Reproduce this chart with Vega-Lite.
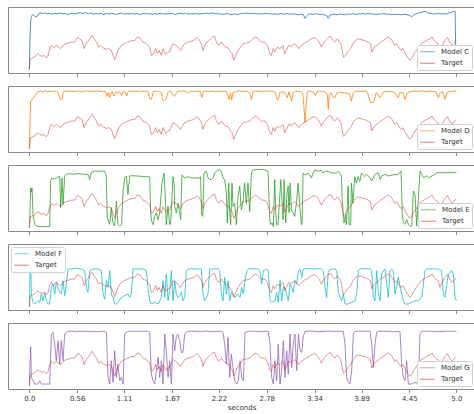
{
  "$schema": "https://vega.github.io/schema/vega-lite/v6.json",
  "padding": {"left": 7, "top": 6, "right": 0, "bottom": 0},
  "bounds": "flush",
  "spacing": 13,
  "config": {
    "font": "DejaVu Sans",
    "view": {"stroke": "#8a8a8a", "strokeWidth": 1},
    "axis": {"domain": false, "grid": false, "tickColor": "#8a8a8a", "tickSize": 3.5, "tickWidth": 1, "labelColor": "#333333", "labelFontSize": 7, "labelPadding": 2, "titleFontSize": 7, "titleFontWeight": "normal", "titleColor": "#333333", "titlePadding": 2},
    "legend": {"fillColor": "#ffffff", "strokeColor": "#d0d0d0", "cornerRadius": 2, "padding": 2, "offset": 3, "symbolType": "stroke", "symbolSize": 220, "symbolStrokeWidth": 1.2, "symbolOpacity": 0.5, "clipHeight": 9.5, "labelFontSize": 7, "labelColor": "#333333", "rowPadding": 1.5, "labelOffset": 5, "direction": "vertical"}
  },
  "resolve": {"scale": {"color": "independent"}, "legend": {"color": "independent"}},
  "datasets": {
    "target": [
      {"t":0,"v":0},{"t":0.012,"v":0.185},{"t":0.043,"v":0.2},{"t":0.082,"v":0.24},{"t":0.101,"v":0.27},{"t":0.121,"v":0.24},{"t":0.148,"v":0.225},{"t":0.172,"v":0.24},{"t":0.199,"v":0.2},{"t":0.219,"v":0.24},{"t":0.238,"v":0.355},{"t":0.258,"v":0.41},{"t":0.285,"v":0.37},{"t":0.316,"v":0.41},{"t":0.343,"v":0.38},{"t":0.367,"v":0.355},{"t":0.394,"v":0.41},{"t":0.433,"v":0.44},{"t":0.462,"v":0.45},{"t":0.492,"v":0.465},{"t":0.531,"v":0.465},{"t":0.562,"v":0.54},{"t":0.589,"v":0.52},{"t":0.617,"v":0.49},{"t":0.64,"v":0.355},{"t":0.667,"v":0.44},{"t":0.706,"v":0.52},{"t":0.734,"v":0.58},{"t":0.757,"v":0.52},{"t":0.785,"v":0.465},{"t":0.812,"v":0.38},{"t":0.835,"v":0.41},{"t":0.863,"v":0.37},{"t":0.902,"v":0.34},{"t":0.929,"v":0.355},{"t":0.96,"v":0.325},{"t":0.98,"v":0.24},{"t":0.999,"v":0.17},{"t":1.019,"v":0.24},{"t":1.038,"v":0.325},{"t":1.077,"v":0.41},{"t":1.116,"v":0.44},{"t":1.155,"v":0.465},{"t":1.194,"v":0.49},{"t":1.233,"v":0.49},{"t":1.265,"v":0.55},{"t":1.292,"v":0.54},{"t":1.331,"v":0.465},{"t":1.37,"v":0.44},{"t":1.409,"v":0.38},{"t":1.429,"v":0.24},{"t":1.456,"v":0.27},{"t":1.479,"v":0.355},{"t":1.499,"v":0.27},{"t":1.518,"v":0.325},{"t":1.546,"v":0.24},{"t":1.565,"v":0.355},{"t":1.597,"v":0.26},{"t":1.624,"v":0.3},{"t":1.643,"v":0.3},{"t":1.663,"v":0.38},{"t":1.682,"v":0.44},{"t":1.714,"v":0.41},{"t":1.741,"v":0.38},{"t":1.768,"v":0.325},{"t":1.792,"v":0.38},{"t":1.819,"v":0.44},{"t":1.858,"v":0.465},{"t":1.897,"v":0.48},{"t":1.936,"v":0.505},{"t":1.964,"v":0.54},{"t":1.987,"v":0.505},{"t":2.014,"v":0.44},{"t":2.034,"v":0.325},{"t":2.053,"v":0.41},{"t":2.081,"v":0.465},{"t":2.112,"v":0.505},{"t":2.143,"v":0.55},{"t":2.171,"v":0.56},{"t":2.19,"v":0.465},{"t":2.221,"v":0.41},{"t":2.249,"v":0.465},{"t":2.276,"v":0.41},{"t":2.299,"v":0.38},{"t":2.327,"v":0.37},{"t":2.354,"v":0.3},{"t":2.377,"v":0.26},{"t":2.393,"v":0.16},{"t":2.416,"v":0.24},{"t":2.444,"v":0.325},{"t":2.471,"v":0.38},{"t":2.502,"v":0.44},{"t":2.541,"v":0.45},{"t":2.58,"v":0.465},{"t":2.619,"v":0.52},{"t":2.646,"v":0.55},{"t":2.678,"v":0.52},{"t":2.717,"v":0.465},{"t":2.756,"v":0.465},{"t":2.787,"v":0.41},{"t":2.815,"v":0.27},{"t":2.834,"v":0.24},{"t":2.854,"v":0.355},{"t":2.873,"v":0.3},{"t":2.904,"v":0.38},{"t":2.932,"v":0.355},{"t":2.971,"v":0.41},{"t":2.99,"v":0.27},{"t":3.01,"v":0.325},{"t":3.037,"v":0.41},{"t":3.068,"v":0.39},{"t":3.1,"v":0.44},{"t":3.127,"v":0.41},{"t":3.154,"v":0.355},{"t":3.185,"v":0.41},{"t":3.225,"v":0.45},{"t":3.264,"v":0.48},{"t":3.303,"v":0.52},{"t":3.334,"v":0.54},{"t":3.361,"v":0.52},{"t":3.381,"v":0.49},{"t":3.4,"v":0.44},{"t":3.42,"v":0.38},{"t":3.439,"v":0.44},{"t":3.467,"v":0.49},{"t":3.498,"v":0.54},{"t":3.529,"v":0.56},{"t":3.556,"v":0.49},{"t":3.576,"v":0.465},{"t":3.607,"v":0.52},{"t":3.627,"v":0.48},{"t":3.646,"v":0.44},{"t":3.662,"v":0.325},{"t":3.677,"v":0.21},{"t":3.701,"v":0.24},{"t":3.732,"v":0.31},{"t":3.763,"v":0.355},{"t":3.79,"v":0.44},{"t":3.818,"v":0.49},{"t":3.849,"v":0.52},{"t":3.888,"v":0.505},{"t":3.927,"v":0.49},{"t":3.966,"v":0.465},{"t":3.993,"v":0.44},{"t":4.01,"v":0.3},{"t":4.04,"v":0.38},{"t":4.083,"v":0.425},{"t":4.114,"v":0.465},{"t":4.142,"v":0.49},{"t":4.169,"v":0.52},{"t":4.2,"v":0.55},{"t":4.232,"v":0.52},{"t":4.259,"v":0.465},{"t":4.278,"v":0.41},{"t":4.298,"v":0.44},{"t":4.325,"v":0.38},{"t":4.349,"v":0.325},{"t":4.376,"v":0.355},{"t":4.403,"v":0.27},{"t":4.434,"v":0.2},{"t":4.454,"v":0.16},{"t":4.474,"v":0.185},{"t":4.505,"v":0.27},{"t":4.532,"v":0.325},{"t":4.559,"v":0.38},{"t":4.591,"v":0.44},{"t":4.622,"v":0.465},{"t":4.649,"v":0.49},{"t":4.688,"v":0.52},{"t":4.716,"v":0.55},{"t":4.739,"v":0.49},{"t":4.766,"v":0.45},{"t":4.786,"v":0.44},{"t":4.806,"v":0.325},{"t":4.833,"v":0.41},{"t":4.864,"v":0.49},{"t":4.895,"v":0.54},{"t":4.923,"v":0.465},{"t":4.95,"v":0.41},{"t":4.981,"v":0.465},{"t":5.0,"v":0.49}
    ],
    "c": [
      {"t":0,"v":0},{"t":0.008,"v":0.55},{"t":0.016,"v":0.82},{"t":0.023,"v":0.9},{"t":0.043,"v":0.93},{"t":0.062,"v":0.9},{"t":0.082,"v":0.885},{"t":0.101,"v":0.92},{"t":0.121,"v":0.96},{"t":0.15,"v":0.945},{"t":0.18,"v":0.955},{"t":0.21,"v":0.94},{"t":0.24,"v":0.95},{"t":0.27,"v":0.935},{"t":0.3,"v":0.95},{"t":0.33,"v":0.94},{"t":0.36,"v":0.955},{"t":0.39,"v":0.94},{"t":0.42,"v":0.945},{"t":0.45,"v":0.93},{"t":0.48,"v":0.945},{"t":0.51,"v":0.95},{"t":0.54,"v":0.94},{"t":0.57,"v":0.955},{"t":0.6,"v":0.96},{"t":0.63,"v":0.945},{"t":0.66,"v":0.965},{"t":0.69,"v":0.94},{"t":0.72,"v":0.955},{"t":0.75,"v":0.935},{"t":0.78,"v":0.945},{"t":0.81,"v":0.94},{"t":0.84,"v":0.95},{"t":0.87,"v":0.93},{"t":0.9,"v":0.945},{"t":0.93,"v":0.935},{"t":0.96,"v":0.95},{"t":0.99,"v":0.94},{"t":1.02,"v":0.93},{"t":1.05,"v":0.945},{"t":1.08,"v":0.95},{"t":1.11,"v":0.935},{"t":1.14,"v":0.945},{"t":1.17,"v":0.94},{"t":1.2,"v":0.95},{"t":1.23,"v":0.935},{"t":1.26,"v":0.945},{"t":1.29,"v":0.93},{"t":1.32,"v":0.94},{"t":1.35,"v":0.95},{"t":1.38,"v":0.94},{"t":1.41,"v":0.945},{"t":1.44,"v":0.93},{"t":1.47,"v":0.945},{"t":1.5,"v":0.935},{"t":1.53,"v":0.95},{"t":1.56,"v":0.94},{"t":1.59,"v":0.945},{"t":1.62,"v":0.935},{"t":1.65,"v":0.95},{"t":1.68,"v":0.94},{"t":1.71,"v":0.93},{"t":1.74,"v":0.945},{"t":1.77,"v":0.95},{"t":1.8,"v":0.94},{"t":1.83,"v":0.955},{"t":1.86,"v":0.935},{"t":1.89,"v":0.945},{"t":1.92,"v":0.94},{"t":1.95,"v":0.95},{"t":1.98,"v":0.935},{"t":2.01,"v":0.945},{"t":2.04,"v":0.94},{"t":2.07,"v":0.955},{"t":2.1,"v":0.94},{"t":2.13,"v":0.96},{"t":2.16,"v":0.945},{"t":2.19,"v":0.95},{"t":2.22,"v":0.935},{"t":2.25,"v":0.94},{"t":2.28,"v":0.93},{"t":2.31,"v":0.945},{"t":2.34,"v":0.935},{"t":2.37,"v":0.925},{"t":2.4,"v":0.94},{"t":2.43,"v":0.93},{"t":2.46,"v":0.935},{"t":2.49,"v":0.95},{"t":2.52,"v":0.945},{"t":2.55,"v":0.955},{"t":2.58,"v":0.94},{"t":2.61,"v":0.95},{"t":2.64,"v":0.945},{"t":2.67,"v":0.94},{"t":2.7,"v":0.945},{"t":2.73,"v":0.935},{"t":2.76,"v":0.95},{"t":2.79,"v":0.94},{"t":2.82,"v":0.945},{"t":2.85,"v":0.935},{"t":2.88,"v":0.94},{"t":2.91,"v":0.93},{"t":2.94,"v":0.945},{"t":2.97,"v":0.935},{"t":3.0,"v":0.94},{"t":3.03,"v":0.945},{"t":3.06,"v":0.935},{"t":3.09,"v":0.94},{"t":3.12,"v":0.935},{"t":3.15,"v":0.925},{"t":3.18,"v":0.935},{"t":3.21,"v":0.92},{"t":3.228,"v":0.865},{"t":3.245,"v":0.9},{"t":3.27,"v":0.935},{"t":3.3,"v":0.94},{"t":3.33,"v":0.93},{"t":3.36,"v":0.945},{"t":3.39,"v":0.93},{"t":3.42,"v":0.935},{"t":3.45,"v":0.925},{"t":3.48,"v":0.915},{"t":3.5,"v":0.865},{"t":3.52,"v":0.92},{"t":3.55,"v":0.93},{"t":3.58,"v":0.935},{"t":3.61,"v":0.925},{"t":3.64,"v":0.94},{"t":3.67,"v":0.93},{"t":3.7,"v":0.925},{"t":3.73,"v":0.94},{"t":3.76,"v":0.93},{"t":3.79,"v":0.945},{"t":3.82,"v":0.93},{"t":3.85,"v":0.94},{"t":3.88,"v":0.935},{"t":3.91,"v":0.945},{"t":3.94,"v":0.935},{"t":3.97,"v":0.95},{"t":4.0,"v":0.935},{"t":4.03,"v":0.94},{"t":4.06,"v":0.93},{"t":4.09,"v":0.94},{"t":4.12,"v":0.935},{"t":4.15,"v":0.945},{"t":4.18,"v":0.93},{"t":4.21,"v":0.935},{"t":4.24,"v":0.925},{"t":4.27,"v":0.935},{"t":4.3,"v":0.93},{"t":4.33,"v":0.935},{"t":4.36,"v":0.925},{"t":4.39,"v":0.935},{"t":4.42,"v":0.925},{"t":4.45,"v":0.915},{"t":4.477,"v":0.89},{"t":4.5,"v":0.92},{"t":4.53,"v":0.94},{"t":4.56,"v":0.955},{"t":4.6,"v":0.97},{"t":4.633,"v":0.985},{"t":4.66,"v":0.96},{"t":4.69,"v":0.95},{"t":4.72,"v":0.945},{"t":4.75,"v":0.935},{"t":4.78,"v":0.95},{"t":4.81,"v":0.94},{"t":4.84,"v":0.945},{"t":4.87,"v":0.935},{"t":4.9,"v":0.95},{"t":4.93,"v":0.96},{"t":4.96,"v":0.975},{"t":4.985,"v":0.985},{"t":4.99,"v":0.5},{"t":4.995,"v":0}
    ],
    "d": [
      {"t":0,"v":0},{"t":0.008,"v":0.5},{"t":0.016,"v":0.8},{"t":0.031,"v":0.83},{"t":0.062,"v":0.887},{"t":0.101,"v":0.96},{"t":0.13,"v":0.97},{"t":0.16,"v":0.955},{"t":0.19,"v":0.975},{"t":0.22,"v":0.96},{"t":0.25,"v":0.97},{"t":0.28,"v":0.965},{"t":0.31,"v":0.975},{"t":0.33,"v":0.955},{"t":0.345,"v":0.9},{"t":0.36,"v":0.84},{"t":0.375,"v":0.815},{"t":0.385,"v":0.84},{"t":0.395,"v":0.95},{"t":0.41,"v":0.97},{"t":0.44,"v":0.965},{"t":0.47,"v":0.975},{"t":0.5,"v":0.96},{"t":0.53,"v":0.97},{"t":0.56,"v":0.965},{"t":0.59,"v":0.975},{"t":0.62,"v":0.95},{"t":0.65,"v":0.97},{"t":0.68,"v":0.975},{"t":0.71,"v":0.96},{"t":0.74,"v":0.97},{"t":0.77,"v":0.965},{"t":0.8,"v":0.975},{"t":0.83,"v":0.96},{"t":0.86,"v":0.97},{"t":0.89,"v":0.965},{"t":0.91,"v":0.88},{"t":0.925,"v":0.95},{"t":0.94,"v":0.86},{"t":0.955,"v":0.93},{"t":0.97,"v":0.96},{"t":0.99,"v":0.885},{"t":1.01,"v":0.95},{"t":1.04,"v":0.94},{"t":1.06,"v":0.96},{"t":1.08,"v":0.9},{"t":1.1,"v":0.97},{"t":1.12,"v":0.96},{"t":1.14,"v":0.885},{"t":1.155,"v":0.95},{"t":1.17,"v":0.975},{"t":1.2,"v":0.965},{"t":1.23,"v":0.97},{"t":1.26,"v":0.96},{"t":1.29,"v":0.975},{"t":1.32,"v":0.965},{"t":1.35,"v":0.97},{"t":1.39,"v":0.96},{"t":1.41,"v":0.84},{"t":1.43,"v":0.83},{"t":1.45,"v":0.96},{"t":1.48,"v":0.97},{"t":1.51,"v":0.965},{"t":1.545,"v":0.95},{"t":1.56,"v":0.82},{"t":1.58,"v":0.815},{"t":1.6,"v":0.83},{"t":1.62,"v":0.94},{"t":1.64,"v":0.97},{"t":1.66,"v":0.96},{"t":1.68,"v":0.91},{"t":1.7,"v":0.88},{"t":1.72,"v":0.93},{"t":1.74,"v":0.97},{"t":1.77,"v":0.965},{"t":1.8,"v":0.975},{"t":1.83,"v":0.96},{"t":1.86,"v":0.94},{"t":1.89,"v":0.97},{"t":1.92,"v":0.965},{"t":1.95,"v":0.975},{"t":1.98,"v":0.96},{"t":2.0,"v":0.97},{"t":2.02,"v":0.86},{"t":2.04,"v":0.97},{"t":2.07,"v":0.965},{"t":2.1,"v":0.975},{"t":2.13,"v":0.96},{"t":2.16,"v":0.97},{"t":2.19,"v":0.965},{"t":2.22,"v":0.975},{"t":2.25,"v":0.96},{"t":2.28,"v":0.97},{"t":2.31,"v":0.955},{"t":2.34,"v":0.83},{"t":2.355,"v":0.94},{"t":2.37,"v":0.82},{"t":2.385,"v":0.95},{"t":2.41,"v":0.96},{"t":2.44,"v":0.975},{"t":2.47,"v":0.97},{"t":2.5,"v":0.965},{"t":2.55,"v":0.97},{"t":2.58,"v":0.93},{"t":2.6,"v":0.83},{"t":2.62,"v":0.96},{"t":2.65,"v":0.975},{"t":2.68,"v":0.965},{"t":2.71,"v":0.97},{"t":2.74,"v":0.96},{"t":2.77,"v":0.975},{"t":2.8,"v":0.965},{"t":2.84,"v":0.97},{"t":2.88,"v":0.95},{"t":2.9,"v":0.83},{"t":2.92,"v":0.83},{"t":2.93,"v":0.94},{"t":2.96,"v":0.96},{"t":2.99,"v":0.95},{"t":3.02,"v":0.86},{"t":3.04,"v":0.96},{"t":3.07,"v":0.8},{"t":3.09,"v":0.94},{"t":3.12,"v":0.97},{"t":3.15,"v":0.965},{"t":3.18,"v":0.96},{"t":3.2,"v":0.94},{"t":3.215,"v":0.7},{"t":3.228,"v":0.44},{"t":3.24,"v":0.7},{"t":3.255,"v":0.96},{"t":3.28,"v":0.97},{"t":3.31,"v":0.965},{"t":3.33,"v":0.95},{"t":3.35,"v":0.89},{"t":3.37,"v":0.96},{"t":3.4,"v":0.97},{"t":3.43,"v":0.965},{"t":3.47,"v":0.95},{"t":3.49,"v":0.9},{"t":3.5,"v":0.66},{"t":3.51,"v":0.9},{"t":3.53,"v":0.94},{"t":3.56,"v":0.86},{"t":3.58,"v":0.87},{"t":3.6,"v":0.94},{"t":3.63,"v":0.95},{"t":3.66,"v":0.94},{"t":3.69,"v":0.945},{"t":3.72,"v":0.93},{"t":3.75,"v":0.92},{"t":3.77,"v":0.8},{"t":3.79,"v":0.93},{"t":3.81,"v":0.965},{"t":3.84,"v":0.97},{"t":3.87,"v":0.96},{"t":3.9,"v":0.97},{"t":3.93,"v":0.965},{"t":3.96,"v":0.95},{"t":3.99,"v":0.78},{"t":4.01,"v":0.775},{"t":4.03,"v":0.78},{"t":4.06,"v":0.94},{"t":4.08,"v":0.92},{"t":4.1,"v":0.86},{"t":4.12,"v":0.9},{"t":4.15,"v":0.96},{"t":4.18,"v":0.965},{"t":4.21,"v":0.96},{"t":4.24,"v":0.965},{"t":4.28,"v":0.94},{"t":4.32,"v":0.86},{"t":4.34,"v":0.95},{"t":4.38,"v":0.93},{"t":4.4,"v":0.83},{"t":4.42,"v":0.93},{"t":4.45,"v":0.96},{"t":4.48,"v":0.965},{"t":4.52,"v":0.97},{"t":4.56,"v":0.965},{"t":4.6,"v":0.975},{"t":4.64,"v":0.96},{"t":4.68,"v":0.975},{"t":4.72,"v":0.965},{"t":4.76,"v":0.96},{"t":4.79,"v":0.86},{"t":4.81,"v":0.94},{"t":4.84,"v":0.96},{"t":4.87,"v":0.83},{"t":4.89,"v":0.94},{"t":4.92,"v":0.96},{"t":4.95,"v":0.965},{"t":5.0,"v":0.975}
    ],
    "e": [
      {"t":0,"v":0},{"t":0.008,"v":0.3},{"t":0.016,"v":0.67},{"t":0.023,"v":0.6},{"t":0.031,"v":0.67},{"t":0.043,"v":0.22},{"t":0.062,"v":0.056},{"t":0.101,"v":0.02},{"t":0.16,"v":0.015},{"t":0.238,"v":0.02},{"t":0.25,"v":0.786},{"t":0.26,"v":0.83},{"t":0.29,"v":0.82},{"t":0.32,"v":0.84},{"t":0.355,"v":0.87},{"t":0.367,"v":0.34},{"t":0.383,"v":0.84},{"t":0.394,"v":0.39},{"t":0.414,"v":0.87},{"t":0.433,"v":0.9},{"t":0.47,"v":0.91},{"t":0.52,"v":0.9},{"t":0.56,"v":0.91},{"t":0.6,"v":0.905},{"t":0.65,"v":0.9},{"t":0.69,"v":0.89},{"t":0.706,"v":0.81},{"t":0.726,"v":0.93},{"t":0.765,"v":0.955},{"t":0.8,"v":0.95},{"t":0.84,"v":0.955},{"t":0.882,"v":0.95},{"t":0.9,"v":0.87},{"t":0.913,"v":0.17},{"t":0.941,"v":0.056},{"t":0.96,"v":0.34},{"t":0.975,"v":0.1},{"t":0.999,"v":0.028},{"t":1.019,"v":0.45},{"t":1.038,"v":0.056},{"t":1.058,"v":0.028},{"t":1.08,"v":0.05},{"t":1.097,"v":0.62},{"t":1.116,"v":0.84},{"t":1.136,"v":0.87},{"t":1.155,"v":0.56},{"t":1.175,"v":0.87},{"t":1.21,"v":0.875},{"t":1.26,"v":0.87},{"t":1.31,"v":0.865},{"t":1.36,"v":0.86},{"t":1.409,"v":0.855},{"t":1.42,"v":0.25},{"t":1.432,"v":0.11},{"t":1.448,"v":0.05},{"t":1.467,"v":0.19},{"t":1.487,"v":0.25},{"t":1.506,"v":0.135},{"t":1.526,"v":0.25},{"t":1.553,"v":0.75},{"t":1.576,"v":0.92},{"t":1.592,"v":0.53},{"t":1.604,"v":0.05},{"t":1.623,"v":0.36},{"t":1.643,"v":0.05},{"t":1.655,"v":0.08},{"t":1.682,"v":0.86},{"t":1.694,"v":0.75},{"t":1.702,"v":0.36},{"t":1.721,"v":0.25},{"t":1.741,"v":0.41},{"t":1.76,"v":0.25},{"t":1.772,"v":0.135},{"t":1.787,"v":0.89},{"t":1.82,"v":0.835},{"t":1.86,"v":0.86},{"t":1.9,"v":0.835},{"t":1.95,"v":0.84},{"t":1.99,"v":0.835},{"t":2.005,"v":0.86},{"t":2.017,"v":0.22},{"t":2.03,"v":0.19},{"t":2.045,"v":0.92},{"t":2.072,"v":0.95},{"t":2.092,"v":0.835},{"t":2.111,"v":0.81},{"t":2.131,"v":0.81},{"t":2.15,"v":0.835},{"t":2.17,"v":0.92},{"t":2.189,"v":0.95},{"t":2.228,"v":0.976},{"t":2.248,"v":0.95},{"t":2.268,"v":0.835},{"t":2.287,"v":0.81},{"t":2.307,"v":0.58},{"t":2.318,"v":0.08},{"t":2.334,"v":0.75},{"t":2.346,"v":0.25},{"t":2.357,"v":0.05},{"t":2.373,"v":0.75},{"t":2.385,"v":0.36},{"t":2.404,"v":0.41},{"t":2.424,"v":0.05},{"t":2.443,"v":0.53},{"t":2.463,"v":0.7},{"t":2.482,"v":0.3},{"t":2.502,"v":0.44},{"t":2.521,"v":0.75},{"t":2.541,"v":0.41},{"t":2.56,"v":0.75},{"t":2.58,"v":0.27},{"t":2.6,"v":0.92},{"t":2.62,"v":0.976},{"t":2.65,"v":0.976},{"t":2.7,"v":0.98},{"t":2.75,"v":0.976},{"t":2.795,"v":0.95},{"t":2.815,"v":0.135},{"t":2.826,"v":0.05},{"t":2.842,"v":0.08},{"t":2.858,"v":0.02},{"t":2.865,"v":0.41},{"t":2.873,"v":0.81},{"t":2.885,"v":0.25},{"t":2.897,"v":0.05},{"t":2.912,"v":0.05},{"t":2.932,"v":0.53},{"t":2.944,"v":0.81},{"t":2.959,"v":0.41},{"t":2.971,"v":0.135},{"t":2.983,"v":0.81},{"t":2.99,"v":0.41},{"t":3.002,"v":0.08},{"t":3.014,"v":0.53},{"t":3.03,"v":0.7},{"t":3.041,"v":0.25},{"t":3.053,"v":0.75},{"t":3.069,"v":0.3},{"t":3.088,"v":0.25},{"t":3.107,"v":0.19},{"t":3.127,"v":0.41},{"t":3.147,"v":0.75},{"t":3.166,"v":0.36},{"t":3.186,"v":0.05},{"t":3.194,"v":0.08},{"t":3.205,"v":0.92},{"t":3.225,"v":0.89},{"t":3.264,"v":0.92},{"t":3.283,"v":0.89},{"t":3.303,"v":0.836},{"t":3.322,"v":0.92},{"t":3.342,"v":0.976},{"t":3.381,"v":0.95},{"t":3.42,"v":0.966},{"t":3.439,"v":0.92},{"t":3.459,"v":0.95},{"t":3.498,"v":0.95},{"t":3.537,"v":0.92},{"t":3.596,"v":0.92},{"t":3.615,"v":0.95},{"t":3.635,"v":0.92},{"t":3.654,"v":0.86},{"t":3.662,"v":0.53},{"t":3.674,"v":0.25},{"t":3.685,"v":0.08},{"t":3.701,"v":0.22},{"t":3.713,"v":0.05},{"t":3.732,"v":0.7},{"t":3.744,"v":0.05},{"t":3.763,"v":0.05},{"t":3.771,"v":0.75},{"t":3.79,"v":0.41},{"t":3.81,"v":0.86},{"t":3.83,"v":0.75},{"t":3.849,"v":0.86},{"t":3.869,"v":0.78},{"t":3.888,"v":0.92},{"t":3.927,"v":0.86},{"t":3.95,"v":0.898},{"t":3.989,"v":0.842},{"t":4.008,"v":0.786},{"t":4.047,"v":0.898},{"t":4.086,"v":0.926},{"t":4.106,"v":0.814},{"t":4.125,"v":0.87},{"t":4.164,"v":0.898},{"t":4.203,"v":0.87},{"t":4.26,"v":0.89},{"t":4.32,"v":0.898},{"t":4.352,"v":0.954},{"t":4.367,"v":0.224},{"t":4.379,"v":0.084},{"t":4.398,"v":0.056},{"t":4.418,"v":0.14},{"t":4.437,"v":0.056},{"t":4.457,"v":0.028},{"t":4.477,"v":0.028},{"t":4.496,"v":0.617},{"t":4.516,"v":0.561},{"t":4.535,"v":0.028},{"t":4.574,"v":0.954},{"t":4.613,"v":0.842},{"t":4.652,"v":0.87},{"t":4.672,"v":0.842},{"t":4.711,"v":0.87},{"t":4.75,"v":0.898},{"t":4.77,"v":0.926},{"t":4.85,"v":0.926},{"t":4.93,"v":0.928},{"t":5.0,"v":0.926}
    ],
    "f": [
      {"t":0,"v":0},{"t":0.008,"v":0.55},{"t":0.012,"v":1.0},{"t":0.018,"v":0.6},{"t":0.023,"v":0.213},{"t":0.043,"v":0.073},{"t":0.062,"v":0.045},{"t":0.101,"v":0.1},{"t":0.121,"v":0.073},{"t":0.141,"v":0.213},{"t":0.16,"v":0.1},{"t":0.18,"v":0.241},{"t":0.199,"v":0.1},{"t":0.219,"v":0.045},{"t":0.238,"v":0.045},{"t":0.258,"v":0.325},{"t":0.277,"v":0.382},{"t":0.297,"v":0.213},{"t":0.316,"v":0.41},{"t":0.336,"v":0.325},{"t":0.355,"v":0.241},{"t":0.375,"v":0.213},{"t":0.394,"v":0.438},{"t":0.414,"v":0.185},{"t":0.433,"v":0.382},{"t":0.453,"v":0.634},{"t":0.492,"v":0.634},{"t":0.531,"v":0.651},{"t":0.57,"v":0.64},{"t":0.609,"v":0.634},{"t":0.648,"v":0.606},{"t":0.667,"v":0.325},{"t":0.687,"v":0.241},{"t":0.706,"v":0.606},{"t":0.745,"v":0.634},{"t":0.804,"v":0.634},{"t":0.843,"v":0.606},{"t":0.863,"v":0.213},{"t":0.882,"v":0.129},{"t":0.902,"v":0.438},{"t":0.921,"v":0.325},{"t":0.941,"v":0.606},{"t":0.96,"v":0.213},{"t":0.98,"v":0.157},{"t":0.999,"v":0.045},{"t":1.019,"v":0.045},{"t":1.038,"v":0.073},{"t":1.077,"v":0.157},{"t":1.116,"v":0.185},{"t":1.155,"v":0.213},{"t":1.175,"v":0.157},{"t":1.194,"v":0.213},{"t":1.214,"v":0.634},{"t":1.233,"v":0.64},{"t":1.28,"v":0.634},{"t":1.33,"v":0.64},{"t":1.37,"v":0.606},{"t":1.389,"v":0.325},{"t":1.409,"v":0.1},{"t":1.428,"v":0.045},{"t":1.468,"v":0.073},{"t":1.507,"v":0.045},{"t":1.546,"v":0.157},{"t":1.565,"v":0.438},{"t":1.585,"v":0.157},{"t":1.604,"v":0.55},{"t":1.624,"v":0.1},{"t":1.643,"v":0.269},{"t":1.663,"v":0.606},{"t":1.682,"v":0.1},{"t":1.702,"v":0.438},{"t":1.721,"v":0.213},{"t":1.741,"v":0.157},{"t":1.76,"v":0.185},{"t":1.78,"v":0.241},{"t":1.799,"v":0.1},{"t":1.819,"v":0.157},{"t":1.838,"v":0.606},{"t":1.858,"v":0.634},{"t":1.9,"v":0.64},{"t":1.95,"v":0.634},{"t":2.014,"v":0.634},{"t":2.033,"v":0.213},{"t":2.053,"v":0.1},{"t":2.092,"v":0.213},{"t":2.111,"v":0.634},{"t":2.131,"v":0.634},{"t":2.17,"v":0.64},{"t":2.209,"v":0.634},{"t":2.229,"v":0.606},{"t":2.248,"v":0.213},{"t":2.268,"v":0.1},{"t":2.287,"v":0.494},{"t":2.307,"v":0.213},{"t":2.326,"v":0.438},{"t":2.346,"v":0.1},{"t":2.365,"v":0.241},{"t":2.404,"v":0.157},{"t":2.443,"v":0.213},{"t":2.467,"v":0.157},{"t":2.486,"v":0.325},{"t":2.506,"v":0.213},{"t":2.525,"v":0.438},{"t":2.545,"v":0.606},{"t":2.564,"v":0.634},{"t":2.62,"v":0.64},{"t":2.681,"v":0.634},{"t":2.701,"v":0.606},{"t":2.72,"v":0.382},{"t":2.74,"v":0.606},{"t":2.779,"v":0.634},{"t":2.798,"v":0.606},{"t":2.818,"v":0.101},{"t":2.837,"v":0.073},{"t":2.876,"v":0.1},{"t":2.896,"v":0.241},{"t":2.915,"v":0.073},{"t":2.935,"v":0.438},{"t":2.954,"v":0.1},{"t":2.974,"v":0.325},{"t":2.993,"v":0.325},{"t":3.032,"v":0.1},{"t":3.052,"v":0.382},{"t":3.071,"v":0.325},{"t":3.091,"v":0.241},{"t":3.11,"v":0.438},{"t":3.13,"v":0.382},{"t":3.15,"v":0.606},{"t":3.169,"v":0.634},{"t":3.189,"v":0.494},{"t":3.208,"v":0.634},{"t":3.27,"v":0.64},{"t":3.33,"v":0.634},{"t":3.39,"v":0.64},{"t":3.423,"v":0.634},{"t":3.442,"v":0.606},{"t":3.462,"v":0.325},{"t":3.481,"v":0.157},{"t":3.501,"v":0.606},{"t":3.54,"v":0.634},{"t":3.579,"v":0.634},{"t":3.598,"v":0.606},{"t":3.618,"v":0.241},{"t":3.637,"v":0.157},{"t":3.657,"v":0.1},{"t":3.676,"v":0.213},{"t":3.696,"v":0.045},{"t":3.735,"v":0.045},{"t":3.774,"v":0.073},{"t":3.813,"v":0.1},{"t":3.833,"v":0.213},{"t":3.852,"v":0.606},{"t":3.872,"v":0.634},{"t":3.93,"v":0.64},{"t":3.989,"v":0.634},{"t":4.008,"v":0.606},{"t":4.028,"v":0.157},{"t":4.047,"v":0.1},{"t":4.067,"v":0.606},{"t":4.086,"v":0.213},{"t":4.106,"v":0.1},{"t":4.125,"v":0.55},{"t":4.145,"v":0.606},{"t":4.164,"v":0.634},{"t":4.203,"v":0.157},{"t":4.223,"v":0.606},{"t":4.242,"v":0.634},{"t":4.262,"v":0.606},{"t":4.281,"v":0.213},{"t":4.32,"v":0.494},{"t":4.359,"v":0.213},{"t":4.379,"v":0.1},{"t":4.398,"v":0.045},{"t":4.437,"v":0.045},{"t":4.477,"v":0.073},{"t":4.516,"v":0.1},{"t":4.555,"v":0.1},{"t":4.594,"v":0.157},{"t":4.633,"v":0.606},{"t":4.652,"v":0.634},{"t":4.72,"v":0.64},{"t":4.789,"v":0.634},{"t":4.828,"v":0.606},{"t":4.847,"v":0.213},{"t":4.867,"v":0.157},{"t":4.906,"v":0.55},{"t":4.945,"v":0.606},{"t":4.965,"v":0.55},{"t":4.984,"v":0.157},{"t":5.0,"v":0.101}
    ],
    "g": [
      {"t":0,"v":0},{"t":0.008,"v":0.4},{"t":0.016,"v":0.657},{"t":0.023,"v":0.14},{"t":0.043,"v":0.084},{"t":0.062,"v":0.028},{"t":0.101,"v":0.028},{"t":0.121,"v":0.084},{"t":0.141,"v":0.028},{"t":0.238,"v":0.028},{"t":0.258,"v":0.87},{"t":0.277,"v":0.898},{"t":0.297,"v":0.7},{"t":0.316,"v":0.42},{"t":0.336,"v":0.758},{"t":0.355,"v":0.365},{"t":0.375,"v":0.758},{"t":0.394,"v":0.42},{"t":0.414,"v":0.87},{"t":0.433,"v":0.898},{"t":0.453,"v":0.915},{"t":0.5,"v":0.92},{"t":0.55,"v":0.91},{"t":0.6,"v":0.92},{"t":0.65,"v":0.915},{"t":0.7,"v":0.91},{"t":0.75,"v":0.915},{"t":0.8,"v":0.91},{"t":0.843,"v":0.915},{"t":0.882,"v":0.915},{"t":0.902,"v":0.898},{"t":0.921,"v":0.14},{"t":0.941,"v":0.028},{"t":0.96,"v":0.42},{"t":0.98,"v":0.056},{"t":0.999,"v":0.589},{"t":1.019,"v":0.14},{"t":1.038,"v":0.365},{"t":1.058,"v":0.084},{"t":1.077,"v":0.14},{"t":1.097,"v":0.028},{"t":1.116,"v":0.87},{"t":1.155,"v":0.915},{"t":1.2,"v":0.92},{"t":1.25,"v":0.915},{"t":1.3,"v":0.92},{"t":1.35,"v":0.915},{"t":1.389,"v":0.915},{"t":1.409,"v":0.898},{"t":1.428,"v":0.196},{"t":1.448,"v":0.084},{"t":1.468,"v":0.028},{"t":1.507,"v":0.477},{"t":1.526,"v":0.14},{"t":1.546,"v":0.42},{"t":1.565,"v":0.028},{"t":1.585,"v":0.87},{"t":1.604,"v":0.589},{"t":1.624,"v":0.14},{"t":1.643,"v":0.42},{"t":1.663,"v":0.028},{"t":1.682,"v":0.87},{"t":1.702,"v":0.589},{"t":1.721,"v":0.842},{"t":1.741,"v":0.87},{"t":1.76,"v":0.758},{"t":1.78,"v":0.561},{"t":1.799,"v":0.561},{"t":1.819,"v":0.87},{"t":1.838,"v":0.898},{"t":1.858,"v":0.915},{"t":1.9,"v":0.92},{"t":1.95,"v":0.915},{"t":2.0,"v":0.91},{"t":2.05,"v":0.92},{"t":2.1,"v":0.915},{"t":2.15,"v":0.91},{"t":2.2,"v":0.915},{"t":2.248,"v":0.915},{"t":2.268,"v":0.898},{"t":2.287,"v":0.7},{"t":2.307,"v":0.365},{"t":2.326,"v":0.814},{"t":2.346,"v":0.14},{"t":2.365,"v":0.533},{"t":2.404,"v":0.084},{"t":2.428,"v":0.028},{"t":2.447,"v":0.084},{"t":2.467,"v":0.421},{"t":2.486,"v":0.14},{"t":2.506,"v":0.084},{"t":2.525,"v":0.898},{"t":2.564,"v":0.915},{"t":2.62,"v":0.92},{"t":2.68,"v":0.91},{"t":2.74,"v":0.915},{"t":2.798,"v":0.915},{"t":2.818,"v":0.7},{"t":2.837,"v":0.14},{"t":2.857,"v":0.028},{"t":2.876,"v":0.421},{"t":2.896,"v":0.084},{"t":2.915,"v":0.7},{"t":2.935,"v":0.028},{"t":2.954,"v":0.253},{"t":2.974,"v":0.758},{"t":2.993,"v":0.14},{"t":3.013,"v":0.589},{"t":3.032,"v":0.196},{"t":3.052,"v":0.87},{"t":3.071,"v":0.309},{"t":3.091,"v":0.7},{"t":3.11,"v":0.87},{"t":3.13,"v":0.253},{"t":3.15,"v":0.87},{"t":3.169,"v":0.589},{"t":3.189,"v":0.561},{"t":3.208,"v":0.842},{"t":3.228,"v":0.915},{"t":3.3,"v":0.92},{"t":3.38,"v":0.91},{"t":3.45,"v":0.915},{"t":3.52,"v":0.92},{"t":3.6,"v":0.915},{"t":3.676,"v":0.915},{"t":3.696,"v":0.7},{"t":3.715,"v":0.14},{"t":3.735,"v":0.056},{"t":3.754,"v":0.028},{"t":3.774,"v":0.253},{"t":3.794,"v":0.87},{"t":3.813,"v":0.915},{"t":3.9,"v":0.92},{"t":3.989,"v":0.915},{"t":4.008,"v":0.7},{"t":4.028,"v":0.309},{"t":4.047,"v":0.7},{"t":4.067,"v":0.9},{"t":4.086,"v":0.915},{"t":4.16,"v":0.92},{"t":4.25,"v":0.91},{"t":4.34,"v":0.915},{"t":4.359,"v":0.365},{"t":4.379,"v":0.14},{"t":4.398,"v":0.084},{"t":4.418,"v":0.421},{"t":4.437,"v":0.028},{"t":4.477,"v":0.028},{"t":4.516,"v":0.056},{"t":4.555,"v":0.028},{"t":4.574,"v":0.87},{"t":4.594,"v":0.915},{"t":4.68,"v":0.92},{"t":4.77,"v":0.91},{"t":4.86,"v":0.915},{"t":4.94,"v":0.92},{"t":5.0,"v":0.915}
    ]
  },
  "vconcat": [
    {
      "width": 467, "height": 66,
      "layer": [
        {"data": {"name": "c"}, "mark": {"type": "line", "strokeWidth": 1, "opacity": 0.8},
         "encoding": {
           "x": {"field": "t", "type": "quantitative", "scale": {"domain": [-0.25, 5.218], "nice": false, "zero": false}, "axis": {"values": [0, 0.56, 1.11, 1.67, 2.22, 2.78, 3.34, 3.89, 4.45, 5], "labels": false, "title": null}},
           "y": {"field": "v", "type": "quantitative", "scale": {"domain": [-0.0556, 1.0556], "nice": false, "zero": false}, "axis": null},
           "color": {"datum": "Model C", "scale": {"domain": ["Model C", "Target"], "range": ["#1f77b4", "#d62728"]}, "legend": {"orient": "bottom-right", "title": null, "symbolOpacity": 0.5}}}},
        {"data": {"name": "target"}, "mark": {"type": "line", "strokeWidth": 1, "opacity": 0.5},
         "encoding": {"x": {"field": "t", "type": "quantitative"}, "y": {"field": "v", "type": "quantitative"}, "color": {"datum": "Target"}}}
      ]
    },
    {
      "width": 467, "height": 66,
      "layer": [
        {"data": {"name": "d"}, "mark": {"type": "line", "strokeWidth": 1, "opacity": 0.8},
         "encoding": {
           "x": {"field": "t", "type": "quantitative", "scale": {"domain": [-0.25, 5.218], "nice": false, "zero": false}, "axis": {"values": [0, 0.56, 1.11, 1.67, 2.22, 2.78, 3.34, 3.89, 4.45, 5], "labels": false, "title": null}},
           "y": {"field": "v", "type": "quantitative", "scale": {"domain": [-0.0556, 1.0556], "nice": false, "zero": false}, "axis": null},
           "color": {"datum": "Model D", "scale": {"domain": ["Model D", "Target"], "range": ["#ff7f0e", "#d62728"]}, "legend": {"orient": "bottom-right", "title": null, "symbolOpacity": 0.5}}}},
        {"data": {"name": "target"}, "mark": {"type": "line", "strokeWidth": 1, "opacity": 0.5},
         "encoding": {"x": {"field": "t", "type": "quantitative"}, "y": {"field": "v", "type": "quantitative"}, "color": {"datum": "Target"}}}
      ]
    },
    {
      "width": 467, "height": 66,
      "layer": [
        {"data": {"name": "e"}, "mark": {"type": "line", "strokeWidth": 1, "opacity": 0.8},
         "encoding": {
           "x": {"field": "t", "type": "quantitative", "scale": {"domain": [-0.25, 5.218], "nice": false, "zero": false}, "axis": {"values": [0, 0.56, 1.11, 1.67, 2.22, 2.78, 3.34, 3.89, 4.45, 5], "labels": false, "title": null}},
           "y": {"field": "v", "type": "quantitative", "scale": {"domain": [-0.0556, 1.0556], "nice": false, "zero": false}, "axis": null},
           "color": {"datum": "Model E", "scale": {"domain": ["Model E", "Target"], "range": ["#2ca02c", "#d62728"]}, "legend": {"orient": "bottom-right", "title": null, "symbolOpacity": 0.5}}}},
        {"data": {"name": "target"}, "mark": {"type": "line", "strokeWidth": 1, "opacity": 0.5},
         "encoding": {"x": {"field": "t", "type": "quantitative"}, "y": {"field": "v", "type": "quantitative"}, "color": {"datum": "Target"}}}
      ]
    },
    {
      "width": 467, "height": 66,
      "layer": [
        {"data": {"name": "f"}, "mark": {"type": "line", "strokeWidth": 1, "opacity": 0.8},
         "encoding": {
           "x": {"field": "t", "type": "quantitative", "scale": {"domain": [-0.25, 5.218], "nice": false, "zero": false}, "axis": {"values": [0, 0.56, 1.11, 1.67, 2.22, 2.78, 3.34, 3.89, 4.45, 5], "labels": false, "title": null}},
           "y": {"field": "v", "type": "quantitative", "scale": {"domain": [-0.0556, 1.0556], "nice": false, "zero": false}, "axis": null},
           "color": {"datum": "Model F", "scale": {"domain": ["Model F", "Target"], "range": ["#17becf", "#d62728"]}, "legend": {"orient": "top-left", "title": null, "symbolOpacity": 0.5}}}},
        {"data": {"name": "target"}, "mark": {"type": "line", "strokeWidth": 1, "opacity": 0.5},
         "encoding": {"x": {"field": "t", "type": "quantitative"}, "y": {"field": "v", "type": "quantitative"}, "color": {"datum": "Target"}}}
      ]
    },
    {
      "width": 467, "height": 66,
      "layer": [
        {"data": {"name": "g"}, "mark": {"type": "line", "strokeWidth": 1, "opacity": 0.8},
         "encoding": {
           "x": {"field": "t", "type": "quantitative", "scale": {"domain": [-0.25, 5.218], "nice": false, "zero": false}, "axis": {"values": [0, 0.56, 1.11, 1.67, 2.22, 2.78, 3.34, 3.89, 4.45, 5], "title": "seconds", "labelExpr": "datum.value == 0 ? '0.0' : datum.value == 5 ? '5.0' : format(datum.value, '.2f')"}},
           "y": {"field": "v", "type": "quantitative", "scale": {"domain": [-0.0556, 1.0556], "nice": false, "zero": false}, "axis": null},
           "color": {"datum": "Model G", "scale": {"domain": ["Model G", "Target"], "range": ["#9467bd", "#d62728"]}, "legend": {"orient": "bottom-right", "title": null, "symbolOpacity": 0.5}}}},
        {"data": {"name": "target"}, "mark": {"type": "line", "strokeWidth": 1, "opacity": 0.5},
         "encoding": {"x": {"field": "t", "type": "quantitative"}, "y": {"field": "v", "type": "quantitative"}, "color": {"datum": "Target"}}}
      ]
    }
  ]
}
